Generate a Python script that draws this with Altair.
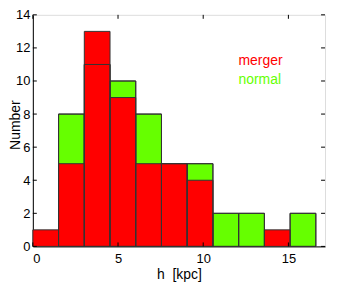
import altair as alt
import pandas as pd

# bin edges (kpc)
bin_left = [0.0, 1.51, 3.02, 4.53, 6.04, 7.55, 9.06, 10.57, 12.08, 13.59, 15.10]
bin_right = [1.51, 3.02, 4.53, 6.04, 7.55, 9.06, 10.57, 12.08, 13.59, 15.10, 16.61]
# green (normal, drawn behind) and red (merger) bar heights
normal_h = [0, 8, 11, 10, 8, 5, 5, 2, 2, 0, 2]
merger_h = [1, 5, 13, 9, 5, 5, 4, 0, 0, 1, 0]

x_ticks = [0, 5, 10, 15]
y_ticks = [0, 2, 4, 6, 8, 10, 12, 14]

W, H = 294, 233
XMAX, YMAX = 17.15, 14

df = pd.DataFrame({"x": bin_left, "x2": bin_right, "normal": normal_h, "merger": merger_h, "y0": [0] * len(bin_left)})
df_n = df[df["normal"] > 0]
df_m = df[df["merger"] > 0]

xs = alt.Scale(domain=[0, XMAX], nice=False, zero=False)
ys = alt.Scale(domain=[0, YMAX], nice=False)
FONT = "Liberation Sans"

xaxis = alt.Axis(values=x_ticks, ticks=False, grid=False, labelFontSize=13, labelFont=FONT,
                 labelColor="black", domainColor="black", labelPadding=6, labelOverlap=False,
                 title="h\u00a0\u00a0[kpc]", titleFont=FONT, titleFontSize=14, titleFontWeight="normal",
                 titleX=W / 2, titleY=32, titleAlign="center", titleBaseline="alphabetic")
yaxis = alt.Axis(values=y_ticks, ticks=False, grid=False, labelFontSize=13, labelFont=FONT,
                 labelColor="black", domainColor="black", labelPadding=3, labelOverlap=False,
                 title="Number", titleFont=FONT, titleFontSize=14, titleFontWeight="normal",
                 titleX=-17, titleY=H / 2 - 6, titleAngle=-90, titleAlign="center",
                 titleBaseline="middle")

def X(f):
    return alt.X(f, scale=xs, axis=xaxis)

def Y(f):
    return alt.Y(f, scale=ys, axis=yaxis)

green = alt.Chart(df_n).mark_rect(fill="#66FF00", stroke="#333333", strokeWidth=1).encode(
    x=X("x:Q"), x2="x2:Q", y=Y("y0:Q"), y2="normal:Q")
red = alt.Chart(df_m).mark_rect(fill="#FF0000", stroke="#333333", strokeWidth=1).encode(
    x=X("x:Q"), x2="x2:Q", y=Y("y0:Q"), y2="merger:Q")
outline = alt.Chart(df_n).mark_rect(fill=None, filled=False, stroke="#333333", strokeWidth=1).encode(
    x=X("x:Q"), x2="x2:Q", y=Y("y0:Q"), y2="normal:Q")

xt = pd.DataFrame({"v": x_ticks})
yt = pd.DataFrame({"v": y_ticks})
tb = alt.Chart(xt).mark_rule(color="black", strokeWidth=1).encode(
    x=X("v:Q"), y=alt.value(H), y2=alt.value(H - 4))
tt = alt.Chart(xt).mark_rule(color="black", strokeWidth=1).encode(
    x=X("v:Q"), y=alt.value(0), y2=alt.value(4))
tl = alt.Chart(yt).mark_rule(color="black", strokeWidth=1).encode(
    y=Y("v:Q"), x=alt.value(0), x2=alt.value(4))
tr = alt.Chart(yt).mark_rule(color="black", strokeWidth=1).encode(
    y=Y("v:Q"), x=alt.value(W), x2=alt.value(W - 4))

leg = pd.DataFrame({"label": ["merger", "normal"], "lx": [12.07, 12.07], "ly": [11.2, 10.05],
                    "c": ["#FF0000", "#66FF00"]})
legend = alt.Chart(leg).mark_text(align="left", baseline="middle", font=FONT, fontSize=14).encode(
    x=X("lx:Q"), y=Y("ly:Q"), text="label:N",
    color=alt.Color("c:N", scale=None))

chart = alt.layer(green, red, outline, tb, tt, tl, tr, legend).properties(
    width=W, height=H,
    autosize=alt.AutoSizeParams(type="none"),
    padding={"left": 25, "top": 6, "right": 5, "bottom": 44},
).configure_view(stroke="black", strokeWidth=1).configure(background="white")

chart.save("out.html", embed_options={"renderer": "svg", "actions": False})
